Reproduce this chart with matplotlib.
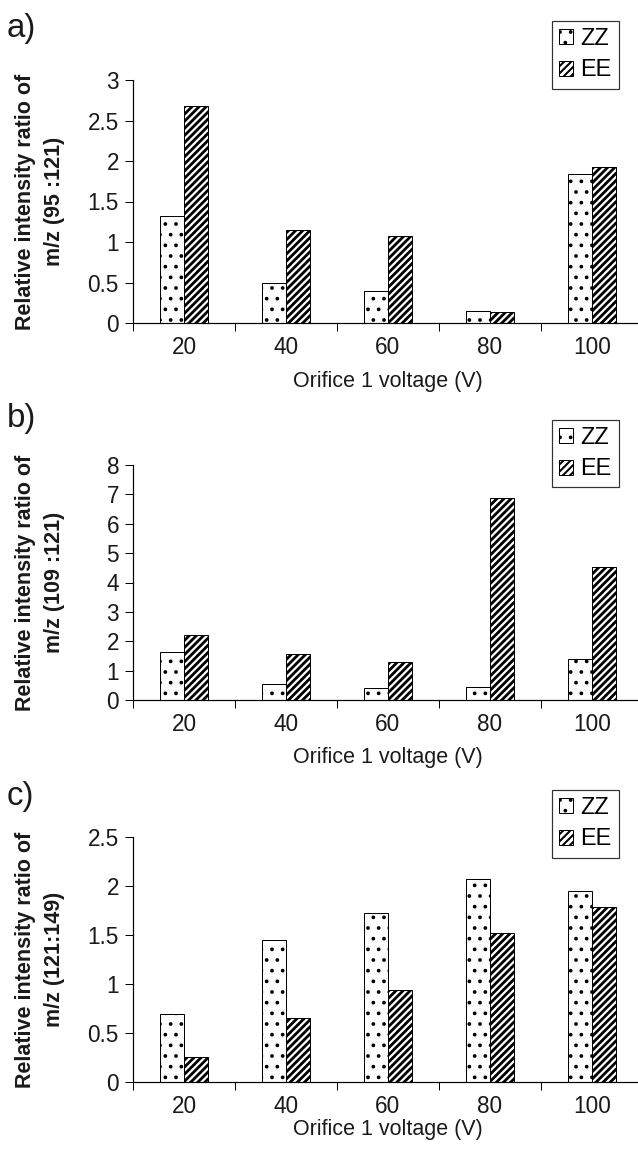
import numpy as np
import matplotlib
matplotlib.use("Agg")
import matplotlib.pyplot as plt

# ---- data ----
voltages = ["20", "40", "60", "80", "100"]
series_names = ["ZZ", "EE"]

zz_a = [1.32, 0.49, 0.39, 0.15, 1.84]
ee_a = [2.68, 1.15, 1.07, 0.14, 1.93]

zz_b = [1.62, 0.56, 0.40, 0.45, 1.40]
ee_b = [2.22, 1.57, 1.28, 6.87, 4.53]

zz_c = [0.69, 1.445, 1.72, 2.075, 1.95]
ee_c = [0.26, 0.65, 0.94, 1.52, 1.785]

panel_tags = ["a)", "b)", "c)"]
ylabels = ["Relative intensity ratio of\nm/z (95 :121)",
           "Relative intensity ratio of\nm/z (109 :121)",
           "Relative intensity ratio of\nm/z (121:149)"]
ytick_sets = [[0, 0.5, 1, 1.5, 2, 2.5, 3],
              [0, 1, 2, 3, 4, 5, 6, 7, 8],
              [0, 0.5, 1, 1.5, 2, 2.5]]
xlabel = "Orifice 1 voltage (V)"

# ---- figure geometry in pixels ----
# dpi 64 makes the hatch tile 64 px, which gives dot/stripe spacing close
# to the printed patterns
W, H = 638, 1152
DPI = 64
PT = 72.0 / DPI  # pixel -> point

plt.rcParams['font.family'] = ['Liberation Sans', 'DejaVu Sans']
plt.rcParams['hatch.linewidth'] = 2.5 * PT

fig = plt.figure(figsize=(W / DPI, H / DPI), dpi=DPI)

# (top px, bottom px) of each plot area, left edge at 133 px, 102 px per category
ax_left, ax_width = 133, 510
boxes = [(80, 323), (465, 700), (837, 1082)]
tag_y = [29, 418, 797]
legend_top = [21, 420, 790]
xlabel_off = [59, 58, 47]

data = [(zz_a, ee_a), (zz_b, ee_b), (zz_c, ee_c)]
x = np.arange(len(voltages))
bw = 0.235
fs = 21.5 * PT       # axis titles
fs_tick = 22.5 * PT  # tick labels
fs_leg = 23.5 * PT   # legend


def set_hlw(patches, lw):
    for p in patches:
        try:
            p.set_hatch_linewidth(lw)
        except AttributeError:
            pass


for k in range(3):
    top, bot = boxes[k]
    ax = fig.add_axes([ax_left / W, 1 - bot / H, ax_width / W, (bot - top) / H])
    zz, ee = data[k]

    b1 = ax.bar(x - bw / 2, zz, bw, color="white", edgecolor="black",
                linewidth=1.0 * PT, hatch=".", label=series_names[0])
    b2 = ax.bar(x + bw / 2, ee, bw, color="white", edgecolor="black",
                linewidth=1.0 * PT, hatch="///", label=series_names[1])
    set_hlw(b1, 1.6 * PT)
    set_hlw(b2, 2.8 * PT)

    yt = ytick_sets[k]
    ax.set_ylim(0, yt[-1])
    ax.set_xlim(-0.5, len(voltages) - 0.5)
    ax.set_yticks(yt)
    ax.set_yticklabels([f"{v:g}" for v in yt])

    # category boundaries get the tick marks, labels sit in the middle
    ax.set_xticks(np.arange(-0.5, len(voltages), 1.0))
    ax.set_xticklabels([])
    ax.set_xticks(x, minor=True)
    ax.set_xticklabels(voltages, minor=True)
    ax.tick_params(axis="x", which="major", direction="out", length=8 * PT,
                   width=1.0 * PT, color="black")
    ax.tick_params(axis="x", which="minor", length=0, pad=13 * PT,
                   labelsize=fs_tick, labelcolor="#1a1a1a")
    ax.tick_params(axis="y", direction="out", length=8 * PT, width=1.0 * PT,
                   pad=6 * PT, labelsize=fs_tick, labelcolor="#1a1a1a")

    for s in ["top", "right"]:
        ax.spines[s].set_visible(False)
    for s in ["left", "bottom"]:
        ax.spines[s].set_linewidth(1.2 * PT)
        ax.spines[s].set_color("black")

    ax.set_ylabel(ylabels[k], fontsize=fs, fontweight="bold", linespacing=1.45,
                  color="#1a1a1a")
    ax.yaxis.label.set_va("center")
    ax.yaxis.set_label_coords((40 - ax_left) / ax_width, 0.5)
    ax.set_xlabel(xlabel, fontsize=fs, color="#1a1a1a")
    ax.xaxis.set_label_coords(0.5, -xlabel_off[k] / (bot - top))
    ax.xaxis.label.set_va("center")

    leg = ax.legend(loc="upper left",
                    bbox_to_anchor=(552 / W, 1 - legend_top[k] / H),
                    bbox_transform=fig.transFigure, borderaxespad=0,
                    fontsize=fs_leg, frameon=True, fancybox=False, shadow=False,
                    handlelength=0.6, handleheight=0.6, handletextpad=0.3,
                    labelspacing=0.4, borderpad=0.3)
    leg.get_frame().set_edgecolor("black")
    leg.get_frame().set_linewidth(1.2 * PT)
    set_hlw(leg.legend_handles[0:1], 1.6 * PT)
    set_hlw(leg.legend_handles[1:2], 2.0 * PT)

    fig.text(7 / W, 1 - tag_y[k] / H, panel_tags[k], fontsize=33 * PT,
             ha="left", va="center", color="#1a1a1a")

fig.savefig("out.png", dpi=DPI)
